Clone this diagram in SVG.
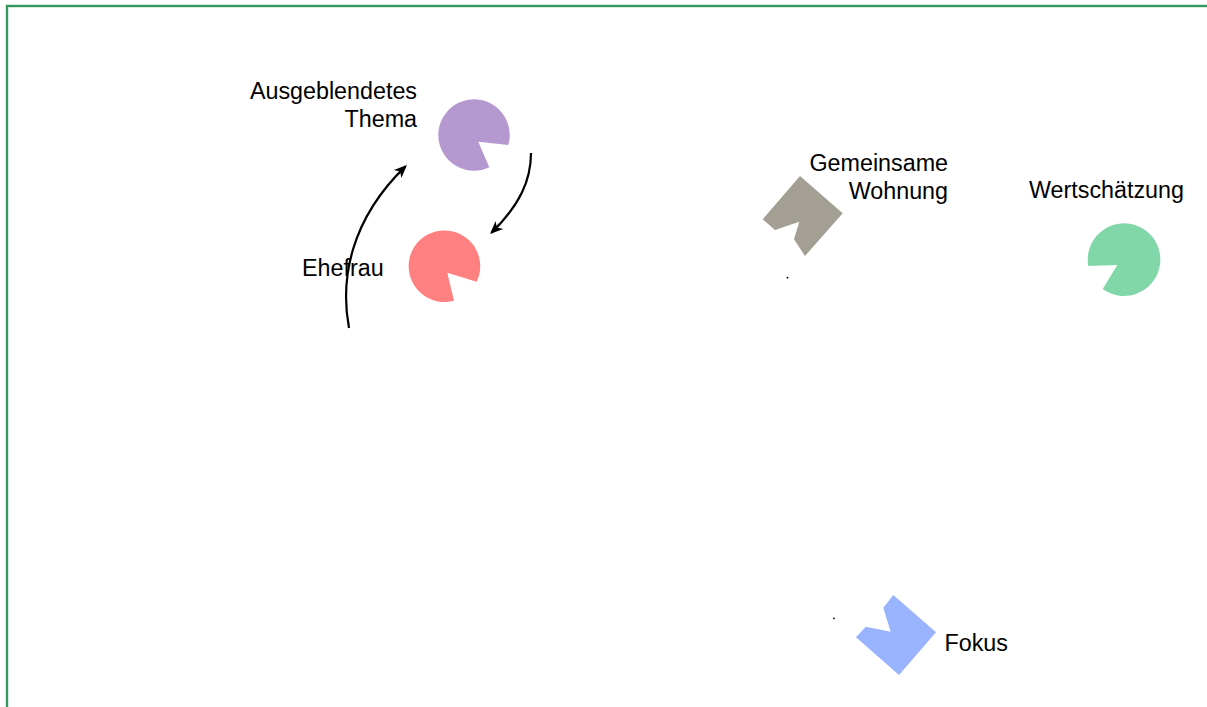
<svg xmlns="http://www.w3.org/2000/svg" width="1207" height="707" viewBox="0 0 1207 707">
<style>
text{font-family:"Liberation Sans",Arial,sans-serif;font-size:23.3px;fill:#000}
.end{text-anchor:end}
.conn{fill:none;stroke:#000;stroke-width:2.2}
</style>
<defs>
<marker id="arr" markerUnits="userSpaceOnUse" markerWidth="20" markerHeight="20" viewBox="-16 -8 20 16" refX="-2" refY="0" orient="auto">
<path d="M-13,-5.5 L0,0 L-13,5.5 L-9.5,0 Z" fill="#000"/>
</marker>
</defs>
<rect width="1207" height="707" fill="#fff"/>
<rect x="7" y="6" width="1220" height="720" fill="none" stroke="#34975f" stroke-width="2.4"/>
<g id="thema">
<path d="M508.3,145 A35.7,35.7 0 1 0 489.3,167.3 L478.3,141.7 Z" fill="#b698d0"/>
<text class="end" x="417" y="99">Ausgeblendetes</text>
<text class="end" x="417" y="126.5">Thema</text>
</g>
<g id="ehefrau">
<path d="M476.7,281.7 A35.8,35.8 0 1 0 454,300.7 L447.3,272.7 Z" fill="#ff8080"/>
<text x="302" y="276">Ehefrau</text>
</g>
<g id="wohnung">
<polygon points="800,176 842.7,213.3 805,256 794,239.3 799.3,221.7 775,230 762.7,219.3" fill="#a39f94"/>
<circle cx="787.5" cy="277.7" r="0.9" fill="#000"/>
<text class="end" x="948" y="171">Gemeinsame</text>
<text class="end" x="948" y="199">Wohnung</text>
</g>
<g id="wertschaetzung">
<path d="M1102.7,289 A36.3,36.3 0 1 0 1088.3,266 L1117.3,265 Z" fill="#82d7a9"/>
<text x="1029" y="198">Wertschätzung</text>
</g>
<g id="fokus">
<polygon points="893.3,595 936,632.3 899,675 856,637.3 865.7,626.7 890.7,631.7 883.3,607.7" fill="#99b3ff"/>
<circle cx="834" cy="618.3" r="0.9" fill="#000"/>
<text x="944.5" y="651">Fokus</text>
</g>
<g id="connectors">
<path class="conn" d="M349,328 C340,280 350,220 405.5,166.4" marker-end="url(#arr)"/>
<path class="conn" d="M531,153 C531,180 520,205 491.5,232.6" marker-end="url(#arr)"/>
</g>
</svg>
